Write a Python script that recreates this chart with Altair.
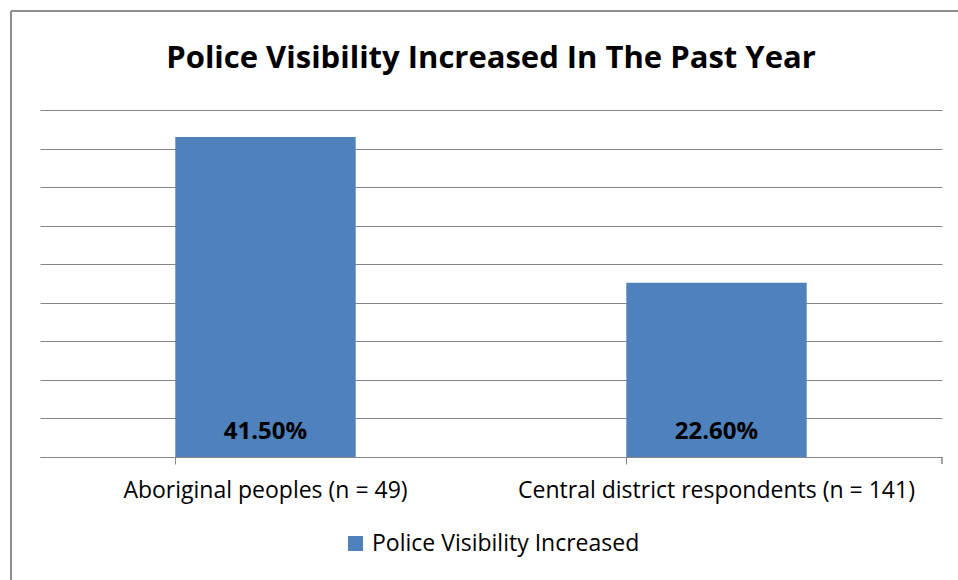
import altair as alt
import pandas as pd

categories = ["Aboriginal peoples (n = 49)", "Central district respondents (n = 141)"]
values = [41.5, 22.6]
labels = ["41.50%", "22.60%"]
series = ["Police Visibility Increased", "Police Visibility Increased"]

df = pd.DataFrame({"cat": categories, "val": values, "lab": labels, "series": series})

W, H = 902, 347
FONT = "Open Sans"

x_axis = alt.Axis(labelAngle=0, labelFontSize=23, labelFont=FONT, labelColor="#000000",
                  labelPadding=15, tickSize=7, tickColor="#868686", domainColor="#868686",
                  bandPosition=0, labelLimit=600)
x = alt.X("cat:N", sort=categories, title=None,
          scale=alt.Scale(paddingInner=0.6, paddingOuter=0.3), axis=x_axis)
y_axis = alt.Axis(values=list(range(0, 50, 5)), labels=False, ticks=False, domain=False,
                  grid=True, gridColor="#868686", gridWidth=1)
y_scale = alt.Scale(domain=[0, 45], nice=False)
y = alt.Y("val:Q", title=None, scale=y_scale, axis=y_axis)

bars = alt.Chart(df).mark_bar(color="#4F81BD").encode(
    x=x, y=y,
    color=alt.Color("series:N", scale=alt.Scale(range=["#4F81BD"]),
                    legend=alt.Legend(title=None, orient="none", legendX=304, legendY=422,
                                      symbolType="square", symbolSize=225, symbolStrokeWidth=0,
                                      labelFontSize=23, labelFont=FONT, labelColor="#000000",
                                      symbolOpacity=1, labelOffset=5, labelLimit=500))
)

text = alt.Chart(df).mark_text(fontSize=24, fontWeight="bold", font=FONT, color="#000000",
                               baseline="middle").encode(
    x=x, y=alt.Y(datum=3.2, title=None, scale=y_scale, axis=y_axis), text="lab:N")

right_tick = alt.Chart(df).mark_rule(color="#868686").encode(
    x=alt.value(W), y=alt.value(H), y2=alt.value(H + 7))

border_top = alt.Chart(df).mark_rule(color="#868686", strokeWidth=1.5).encode(
    x=alt.value(-29), x2=alt.value(W + 30), y=alt.value(-99))
border_left = alt.Chart(df).mark_rule(color="#868686", strokeWidth=1.5).encode(
    x=alt.value(-29), y=alt.value(-99), y2=alt.value(H + 140))

chart = alt.layer(bars, text, right_tick, border_top, border_left).properties(
    width=W, height=H,
    title=alt.TitleParams("Police Visibility Increased In The Past Year", fontSize=31,
                          font=FONT, fontWeight="bold", color="#000000", anchor="middle",
                          frame="group", offset=-65),
    padding={"left": 40, "top": 110, "right": 16, "bottom": 123},
    autosize=alt.AutoSizeParams(type="none"),
).configure(background="#FFFFFF").configure_view(stroke=None)

chart.save("out.html", embed_options={"renderer": "svg", "actions": False})
